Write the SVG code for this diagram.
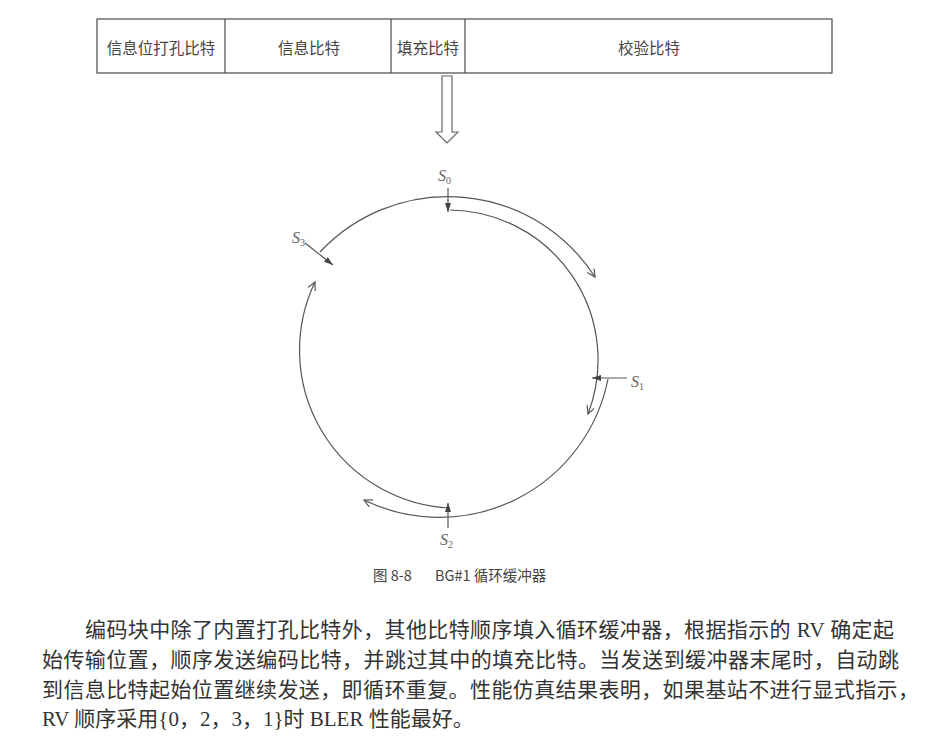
<svg xmlns="http://www.w3.org/2000/svg" width="927" height="750" viewBox="0 0 927 750">
<style>
.box{fill:#fff;stroke:#4a4a4a;stroke-width:1.2}
.bt{font-family:"Noto Sans CJK SC","Noto Sans",sans-serif;font-size:15.5px;fill:#444;text-anchor:middle}
.arc{fill:none;stroke:#555;stroke-width:1.2}
.ptr{fill:none;stroke:#555;stroke-width:1.2}
.sl{font-family:"Liberation Serif",serif;font-style:italic;font-size:16px;fill:#666}
.sub{font-style:normal;font-size:10px}
.cap{font-family:"Noto Sans CJK SC","Noto Sans",sans-serif;font-size:14.5px;fill:#444}
.para{font-family:"Liberation Serif","Noto Sans CJK SC",serif;font-size:21px;fill:#333}
</style>
<defs>
<marker id="open" markerWidth="10" markerHeight="10" refX="8" refY="4" orient="auto" markerUnits="userSpaceOnUse">
<path d="M0,0 L8,4 L0,8" fill="none" stroke="#555" stroke-width="1.2"/>
</marker>
<marker id="solid" markerWidth="10" markerHeight="8" refX="9" refY="3" orient="auto" markerUnits="userSpaceOnUse">
<path d="M0,0 L9,3 L0,6 Z" fill="#444"/>
</marker>
</defs>
<rect width="927" height="750" fill="#fff"/>

<g id="bar">
<rect class="box" x="97" y="19" width="735" height="54"/>
<line x1="225" y1="19" x2="225" y2="73" stroke="#4a4a4a" stroke-width="1.2"/>
<line x1="391" y1="19" x2="391" y2="73" stroke="#4a4a4a" stroke-width="1.2"/>
<line x1="465" y1="19" x2="465" y2="73" stroke="#4a4a4a" stroke-width="1.2"/>
</g>
<g id="n1"><text class="bt" x="161" y="54">信息位打孔比特</text></g>
<g id="n2"><text class="bt" x="309" y="54">信息比特</text></g>
<g id="n3"><text class="bt" x="428" y="54">填充比特</text></g>
<g id="n4"><text class="bt" x="649" y="54">校验比特</text></g>

<g id="bigarrow">
<polygon points="442,76 452,76 452,132 458,132 447,143 436,132 442,132" fill="#fff" stroke="#666" stroke-width="1.2"/>
</g>

<g id="connectors">
<path class="arc" d="M320,252 A175,175 0 0 1 595,277" marker-end="url(#open)"/>
<path class="arc" d="M450,210 A150,150 0 0 1 588,414" marker-end="url(#open)"/>
<path class="arc" d="M608,379 A172,172 0 0 1 364,500" marker-end="url(#open)"/>
<path class="arc" d="M450,508 A158,158 0 0 1 315,282" marker-end="url(#open)"/>
<line class="ptr" x1="448" y1="188" x2="448" y2="212" marker-end="url(#solid)"/>
<line class="ptr" x1="627" y1="378" x2="592" y2="378" marker-end="url(#solid)"/>
<line class="ptr" x1="448" y1="528" x2="448" y2="503" marker-end="url(#solid)"/>
<line class="ptr" x1="305" y1="243" x2="333" y2="265" marker-end="url(#solid)"/>
</g>

<g id="s0"><text class="sl" x="438" y="181">S<tspan class="sub" dy="3">0</tspan></text></g>
<g id="s1"><text class="sl" x="631" y="387">S<tspan class="sub" dy="3">1</tspan></text></g>
<g id="s2"><text class="sl" x="440" y="545">S<tspan class="sub" dy="3">2</tspan></text></g>
<g id="s3"><text class="sl" x="292" y="243">S<tspan class="sub" dy="3">3</tspan></text></g>

<g id="caption">
<text class="cap" x="373" y="581">图 8-8</text>
<text class="cap" x="435" y="581">BG#1 循环缓冲器</text>
</g>

<g id="paragraph">
<text class="para" x="85" y="637" textLength="809" lengthAdjust="spacing">编码块中除了内置打孔比特外，其他比特顺序填入循环缓冲器，根据指示的 RV 确定起</text>
<text class="para" x="42" y="667" textLength="857" lengthAdjust="spacing">始传输位置，顺序发送编码比特，并跳过其中的填充比特。当发送到缓冲器末尾时，自动跳</text>
<text class="para" x="42" y="697" textLength="877" lengthAdjust="spacing">到信息比特起始位置继续发送，即循环重复。性能仿真结果表明，如果基站不进行显式指示，</text>
<text class="para" x="42" y="726">RV 顺序采用{0，2，3，1}时 BLER 性能最好。</text>
</g>
</svg>
